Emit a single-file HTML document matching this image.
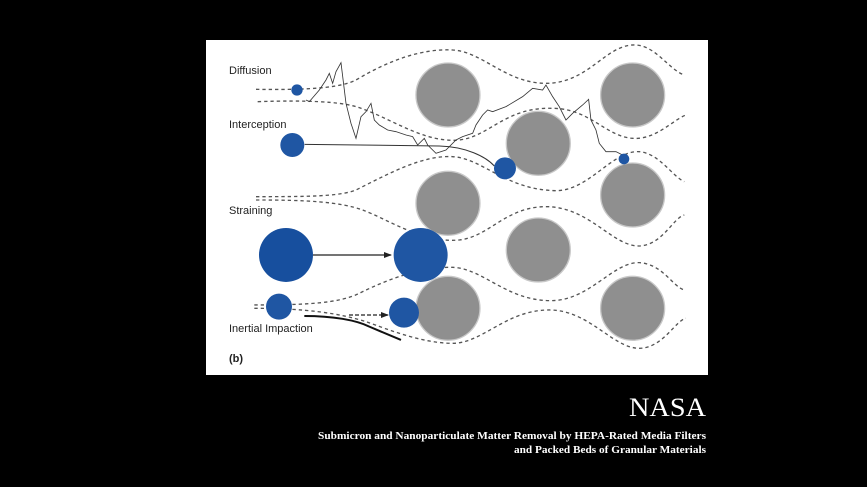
<!DOCTYPE html>
<html><head><meta charset="utf-8"><style>html,body{margin:0;padding:0;background:#000;}svg{display:block}</style></head>
<body>
<svg width="867" height="487" viewBox="0 0 867 487" xmlns="http://www.w3.org/2000/svg">
<rect width="867" height="487" fill="#000"/>
<rect x="206" y="40" width="502" height="335" fill="#fff"/>
<defs>
<marker id="ar" markerWidth="8" markerHeight="8" refX="7" refY="4" orient="auto" markerUnits="userSpaceOnUse"><path d="M0,1 L8,4 L0,7 Z" fill="#222"/></marker>
</defs>
<g transform="translate(206,40) scale(0.3333)">
<g fill="none" stroke="#555" stroke-width="4" stroke-dasharray="10,9">
<path d="M150,148 C300,150 400,145 450,120 C550,60 650,25 740,30 C830,35 900,130 1020,130 C1150,130 1200,10 1290,15 C1350,18 1390,90 1435,105"/>
<path d="M155,185 C300,180 400,185 450,200 C550,230 650,310 760,300 C850,290 900,200 1040,205 C1150,205 1200,290 1280,295 C1350,300 1400,240 1440,225"/>
<path d="M150,470 C300,470 400,470 450,450 C550,400 650,345 740,350 C830,355 900,450 1050,452 C1150,452 1220,330 1300,335 C1360,340 1400,410 1435,425"/>
<path d="M150,480 C300,480 400,485 470,510 C550,540 650,610 760,600 C850,590 900,500 1020,500 C1150,500 1220,620 1300,618 C1370,615 1400,535 1435,525"/>
<path d="M145,795 C300,795 400,790 460,760 C550,715 650,680 740,682 C830,685 900,780 1030,782 C1150,785 1220,665 1300,668 C1370,672 1400,740 1435,750"/>
<path d="M145,805 C300,805 400,820 480,845 C550,870 650,910 740,910 C830,910 900,810 1030,810 C1150,810 1220,925 1300,925 C1370,925 1410,840 1440,835"/>
</g>
<g fill="#8f8f8f" stroke="#c8c8c8" stroke-width="4">
<circle cx="726" cy="165" r="96"/><circle cx="1280" cy="165" r="96"/>
<circle cx="997" cy="310" r="96"/><circle cx="726" cy="490" r="96"/>
<circle cx="1280" cy="465" r="96"/><circle cx="997" cy="630" r="96"/>
<circle cx="726" cy="805" r="96"/><circle cx="1280" cy="805" r="96"/>
</g>
<polyline fill="none" stroke="#333" stroke-width="2.5" points="300,180 310,185 340,150 360,120 370,100 380,130 390,95 405,68 420,190 435,250 450,295 465,230 480,215 495,190 505,240 520,255 545,270 570,275 600,285 620,290 635,315 655,295 665,315 690,340 720,330 750,300 770,290 800,280 810,255 830,225 845,210 860,215 900,200 950,170 980,145 1010,150 1020,135 1040,170 1060,200 1080,240 1100,220 1130,195 1148,178 1155,240 1170,270 1180,310 1200,335 1230,335 1250,345"/>
<path d="M296,313 L700,318 C780,320 840,350 865,378" fill="none" stroke="#333" stroke-width="3"/>
<g fill="#1f56a3">
<circle cx="273" cy="150" r="17"/><circle cx="259" cy="315" r="36"/>
<circle cx="897" cy="385" r="33"/><circle cx="1254" cy="357" r="16"/>
<circle cx="240" cy="645" r="81" fill="#174f9e"/><circle cx="644" cy="645" r="81"/>
<circle cx="219" cy="800" r="39"/><circle cx="594" cy="818" r="45"/>
</g>
<path d="M295,828 C380,828 450,840 490,860 L585,900" fill="none" stroke="#111" stroke-width="6"/>
</g>
<line x1="313" y1="255" x2="391" y2="255" stroke="#222" stroke-width="1.2" marker-end="url(#ar)"/>
<line x1="349" y1="315" x2="388" y2="315" stroke="#222" stroke-width="1.3" stroke-dasharray="4,2" marker-end="url(#ar)"/>
<g font-family="Liberation Sans, sans-serif" font-size="11" fill="#222">
<text x="229" y="74">Diffusion</text>
<text x="229" y="128">Interception</text>
<text x="229" y="214">Straining</text>
<text x="229" y="332">Inertial Impaction</text>
<text x="229" y="362" font-weight="bold">(b)</text>
</g>
<g font-family="Liberation Serif, serif" fill="#fff" text-anchor="end">
<text x="706" y="416" font-size="26" textLength="77" lengthAdjust="spacingAndGlyphs">NASA</text>
<text x="706" y="439" font-size="11" font-weight="bold" textLength="388" lengthAdjust="spacingAndGlyphs">Submicron and Nanoparticulate Matter Removal by HEPA-Rated Media Filters</text>
<text x="706" y="453" font-size="11" font-weight="bold" textLength="192" lengthAdjust="spacingAndGlyphs">and Packed Beds of Granular Materials</text>
</g>
</svg>
</body></html>
